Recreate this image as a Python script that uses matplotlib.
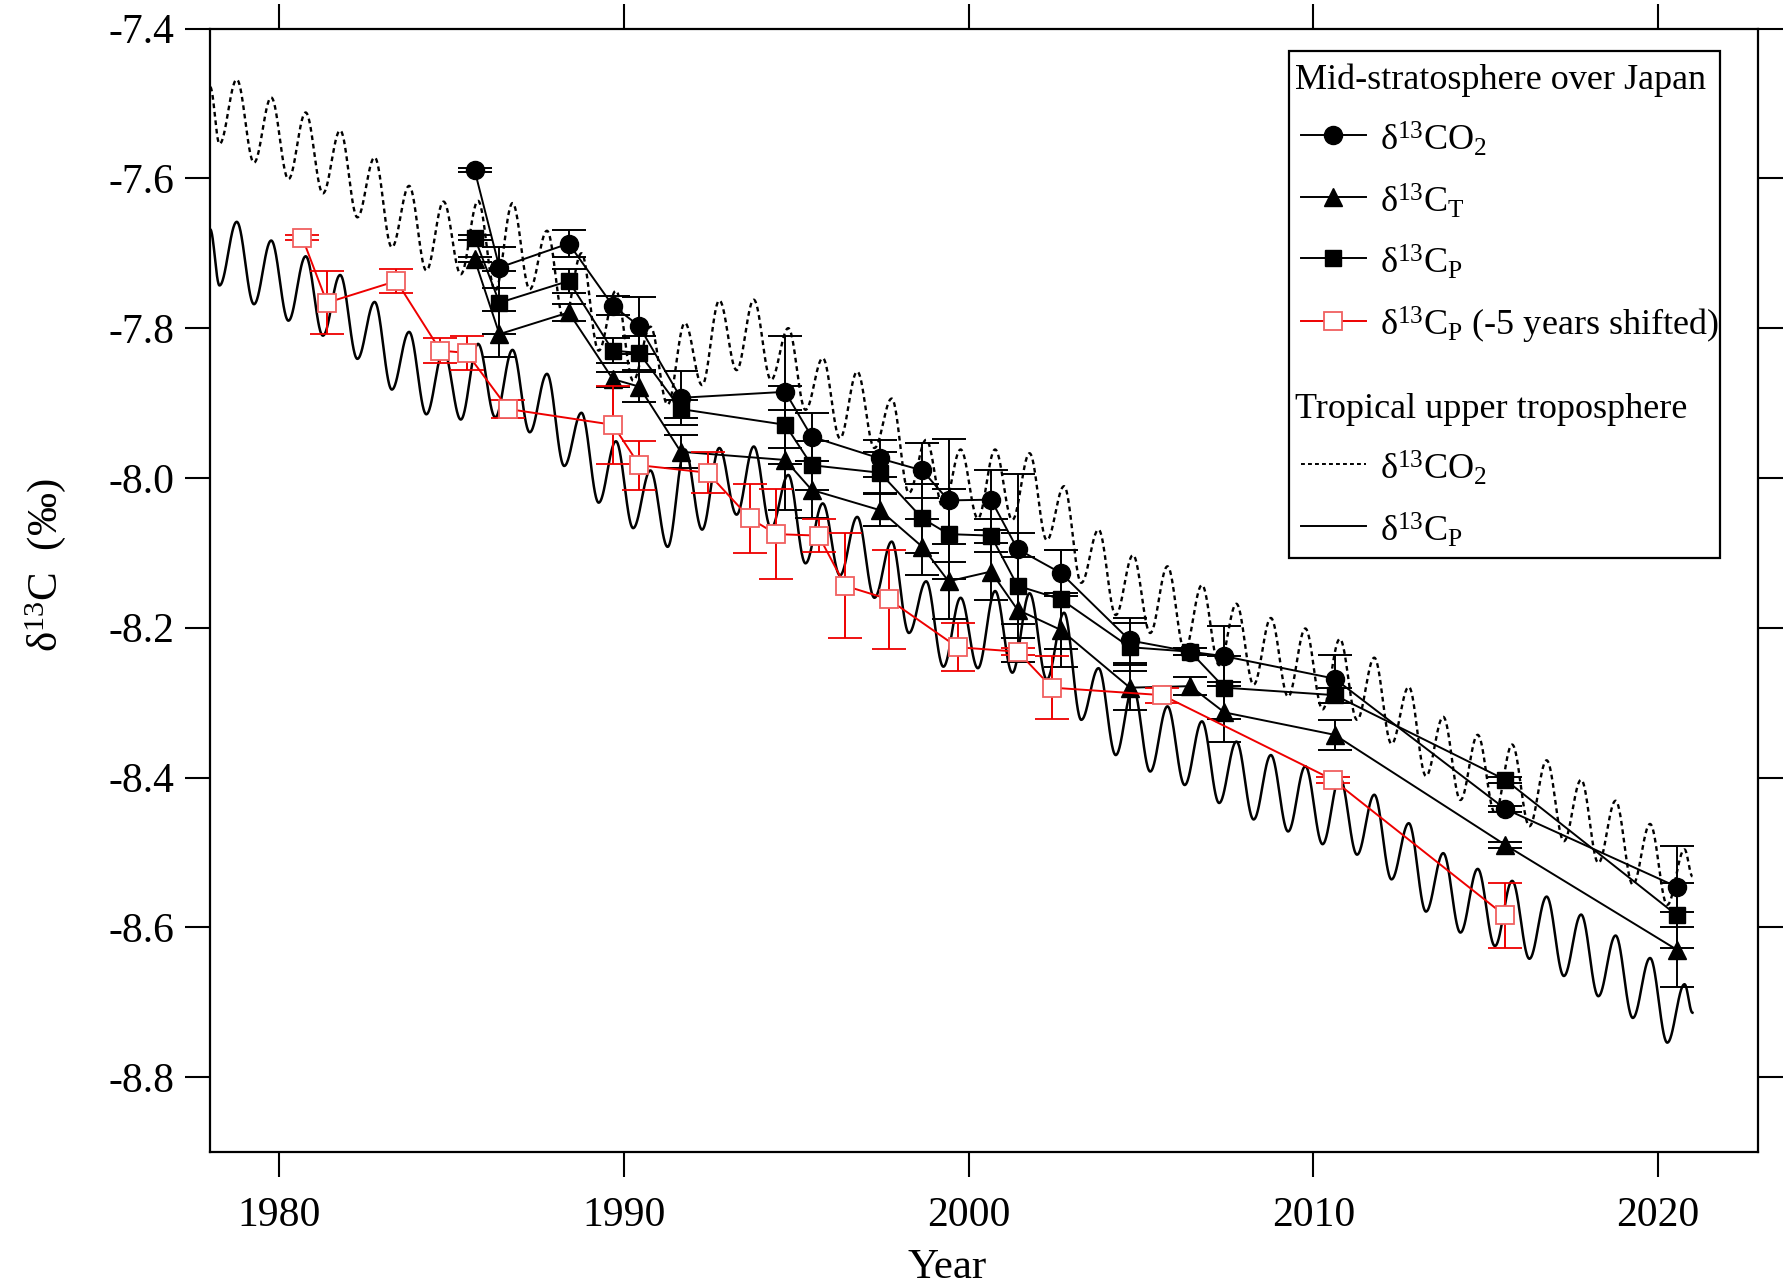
import numpy as np
import matplotlib
matplotlib.use('Agg')
import matplotlib.pyplot as plt
from matplotlib.lines import Line2D
from matplotlib.patches import Rectangle

plt.rcParams['font.family'] = ['Liberation Serif', 'DejaVu Serif']
plt.rcParams['mathtext.fontset'] = 'custom'
plt.rcParams['mathtext.rm'] = 'Liberation Serif'
plt.rcParams['mathtext.it'] = 'Liberation Serif:italic'
plt.rcParams['axes.unicode_minus'] = False

# Mid-stratosphere over Japan (balloon samples)
obs_year = [1985.67, 1986.39, 1988.40, 1989.68, 1990.44, 1991.65, 1994.68, 1995.45,
            1997.43, 1998.66, 1999.42, 2000.65, 2001.42, 2002.68, 2004.68, 2006.43,
            2007.42, 2010.62, 2015.57, 2020.55]
co2 = [-7.589, -7.719, -7.687, -7.770, -7.797, -7.893, -7.885, -7.945, -7.974, -7.990,
       -8.030, -8.029, -8.095, -8.127, -8.217, -8.232, -8.238, -8.268, -8.442, -8.546]
co2_err = [0.003, 0.027, 0.018, 0.013, 0.038, 0.036, 0.075, 0.032, 0.025, 0.037,
           0.082, 0.040, 0.100, 0.031, 0.030, 0.005, 0.040, 0.032, 0.004, 0.054]
ct = [-7.708, -7.808, -7.779, -7.868, -7.878, -7.965, -7.976, -8.016, -8.043, -8.092,
      -8.138, -8.125, -8.176, -8.203, -8.280, -8.278, -8.313, -8.343, -8.490, -8.630]
ct_err = [0.003, 0.031, 0.011, 0.010, 0.020, 0.022, 0.067, 0.038, 0.021, 0.037,
          0.050, 0.038, 0.070, 0.050, 0.030, 0.012, 0.040, 0.020, 0.004, 0.050]
cp = [-7.679, -7.766, -7.737, -7.830, -7.833, -7.908, -7.929, -7.983, -7.993, -8.054,
      -8.075, -8.077, -8.144, -8.162, -8.226, -8.232, -8.280, -8.290, -8.403, -8.584]
cp_err = [0.003, 0.042, 0.016, 0.017, 0.023, 0.012, 0.052, 0.033, 0.027, 0.046,
          0.060, 0.022, 0.070, 0.066, 0.032, 0.005, 0.042, 0.010, 0.004, 0.043]
shift_years = 5

# Tropical upper troposphere: seasonal extrema (troughs / peaks)
ut_year = [1978.00,
           1978.27, 1978.77, 1979.27, 1979.77, 1980.27, 1980.77, 1981.27, 1981.77,
           1982.27, 1982.77, 1983.27, 1983.77, 1984.27, 1984.77, 1985.27, 1985.77,
           1986.27, 1986.77, 1987.27, 1987.77, 1988.27, 1988.77, 1989.27, 1989.77,
           1990.27, 1990.77, 1991.27, 1991.77, 1992.27, 1992.77, 1993.27, 1993.77,
           1994.27, 1994.77, 1995.27, 1995.77, 1996.27, 1996.77, 1997.27, 1997.77,
           1998.27, 1998.77, 1999.27, 1999.77, 2000.27, 2000.77, 2001.27, 2001.77,
           2002.27, 2002.77, 2003.27, 2003.77, 2004.27, 2004.77, 2005.27, 2005.77,
           2006.27, 2006.77, 2007.27, 2007.77, 2008.27, 2008.77, 2009.27, 2009.77,
           2010.27, 2010.77, 2011.27, 2011.77, 2012.27, 2012.77, 2013.27, 2013.77,
           2014.27, 2014.77, 2015.27, 2015.77, 2016.27, 2016.77, 2017.27, 2017.77,
           2018.27, 2018.77, 2019.27, 2019.77, 2020.27, 2020.77,
           2021.00]
ut_co2 = [-7.478,
          -7.554, -7.468, -7.579, -7.492, -7.601, -7.512, -7.620, -7.536,
          -7.652, -7.572, -7.692, -7.610, -7.723, -7.631, -7.728, -7.630,
          -7.750, -7.633, -7.748, -7.670, -7.790, -7.700, -7.830, -7.750,
          -7.870, -7.798, -7.902, -7.793, -7.876, -7.763, -7.856, -7.762,
          -7.869, -7.800, -7.909, -7.840, -7.947, -7.858, -7.960, -7.894,
          -8.020, -7.949, -8.040, -7.962, -8.054, -7.962, -8.056, -7.967,
          -8.083, -8.011, -8.140, -8.069, -8.183, -8.103, -8.207, -8.118,
          -8.230, -8.143, -8.250, -8.168, -8.276, -8.187, -8.292, -8.201,
          -8.309, -8.215, -8.323, -8.240, -8.355, -8.279, -8.398, -8.319,
          -8.430, -8.343, -8.447, -8.356, -8.465, -8.377, -8.485, -8.403,
          -8.514, -8.431, -8.543, -8.462, -8.570, -8.496,
          -8.532]
ut_cp = [-7.668,
         -7.743, -7.658, -7.768, -7.683, -7.790, -7.704, -7.810, -7.729,
         -7.841, -7.765, -7.882, -7.805, -7.915, -7.830, -7.922, -7.821,
         -7.919, -7.829, -7.939, -7.861, -7.984, -7.913, -8.033, -7.951,
         -8.067, -7.990, -8.092, -7.962, -8.069, -7.960, -8.049, -7.958,
         -8.067, -7.996, -8.114, -8.034, -8.130, -8.052, -8.160, -8.085,
         -8.207, -8.138, -8.252, -8.160, -8.254, -8.151, -8.260, -8.154,
         -8.269, -8.180, -8.323, -8.254, -8.370, -8.280, -8.392, -8.305,
         -8.410, -8.325, -8.434, -8.352, -8.456, -8.370, -8.472, -8.385,
         -8.489, -8.400, -8.503, -8.423, -8.536, -8.461, -8.579, -8.501,
         -8.607, -8.522, -8.625, -8.538, -8.642, -8.559, -8.665, -8.583,
         -8.692, -8.611, -8.721, -8.641, -8.754, -8.676,
         -8.714]

x_ticks = [1980, 1990, 2000, 2010, 2020]
y_ticks = [-8.8, -8.6, -8.4, -8.2, -8.0, -7.8, -7.6, -7.4]


def smooth_extrema(t, v, step=0.01):
    # draw a smooth seasonal curve through the extrema (zero slope at each)
    t = np.asarray(t)
    v = np.asarray(v)
    xs, ys = [], []
    for i in range(len(t) - 1):
        n = max(int((t[i + 1] - t[i]) / step), 4)
        s = np.linspace(0, 1, n, endpoint=False)
        xs.append(t[i] + (t[i + 1] - t[i]) * s)
        ys.append(v[i] + (v[i + 1] - v[i]) * (1 - np.cos(np.pi * s)) / 2)
    xs.append([t[-1]])
    ys.append([v[-1]])
    return np.concatenate(xs), np.concatenate(ys)


fig = plt.figure(figsize=(17.92, 12.88), dpi=100)
ax = fig.add_axes([0.1173, 0.1056, 0.8637, 0.8722])

xs, ys = smooth_extrema(ut_year, ut_co2)
ax.plot(xs, ys, color='k', lw=1.7, ls=(0, (2.0, 1.6)), zorder=1)
xs, ys = smooth_extrema(ut_year, ut_cp)
ax.plot(xs, ys, color='k', lw=1.8, zorder=1)

eb = dict(capsize=12, capthick=1.4, elinewidth=1.4, lw=1.4, zorder=3)
ax.errorbar(obs_year, co2, yerr=co2_err, fmt='-o', color='k', ms=13, **eb)
ax.errorbar(obs_year, ct, yerr=ct_err, fmt='-^', color='k', ms=13, **eb)
ax.errorbar(obs_year, cp, yerr=cp_err, fmt='-s', color='k', ms=12, **eb)
red_year = np.array(obs_year) - shift_years
ax.errorbar(red_year, cp, yerr=cp_err, fmt='-s', color='#ee0000', ms=13,
            mfc='white', mec='#f06060', mew=1.3, ecolor='#ee0000',
            capsize=12, capthick=1.4, elinewidth=1.4, lw=1.4, zorder=4)

ax.set_xlim(1978.0, 2022.9)
ax.set_ylim(-8.9, -7.4)
ax.set_xticks(x_ticks)
ax.set_yticks(y_ticks)
ax.set_yticklabels([f'{v:.1f}' for v in y_ticks])
ax.tick_params(axis='both', direction='out', length=18, width=1.5,
               labelsize=30, top=True, right=True)
ax.tick_params(axis='x', pad=14)
ax.tick_params(axis='y', pad=8)
for sp in ax.spines.values():
    sp.set_linewidth(1.6)

ax.set_xlabel('Year', fontsize=31)
ax.xaxis.set_label_coords(0.476, -0.086)
ax.set_ylabel(r'δ$^{13}$C  (‰)', fontsize=31)
ax.yaxis.set_label_coords(-0.092, 0.522)

# legend box (drawn by hand to keep the two group headings flush left)
tr = ax.transAxes
ax.add_patch(Rectangle((0.697, 0.529), 0.2786, 0.4507, transform=tr,
                       fill=False, lw=1.6, ec='k', zorder=6))
fs = 26
ax.text(0.701, 0.954, 'Mid-stratosphere over Japan', transform=tr, fontsize=fs,
        va='center', ha='left', zorder=7)
ax.text(0.701, 0.661, 'Tropical upper troposphere', transform=tr, fontsize=fs,
        va='center', ha='left', zorder=7)
rows = [
    (0.905, r'δ$^{13}$CO$_2$', dict(color='k', marker='o', ms=13)),
    (0.850, r'δ$^{13}$C$_{\mathrm{T}}$', dict(color='k', marker='^', ms=13)),
    (0.7955, r'δ$^{13}$C$_{\mathrm{P}}$', dict(color='k', marker='s', ms=12)),
    (0.7396, r'δ$^{13}$C$_{\mathrm{P}}$ (-5 years shifted)',
     dict(color='#ee0000', marker='s', ms=13, mfc='white', mec='#f06060', mew=1.3)),
    (0.6124, r'δ$^{13}$CO$_2$', dict(color='k', ls=(0, (2.0, 1.6)))),
    (0.5575, r'δ$^{13}$C$_{\mathrm{P}}$', dict(color='k')),
]
for y, label, style in rows:
    ln = Line2D([0.7046, 0.7253, 0.7467], [y, y, y], transform=tr, lw=1.4,
                markevery=[1], zorder=7, **style)
    ln.set_clip_on(False)
    ax.add_line(ln)
    ax.text(0.7555, y - 0.004, label, transform=tr, fontsize=fs, va='center',
            ha='left', zorder=7)

fig.savefig('out.png', dpi=100)
